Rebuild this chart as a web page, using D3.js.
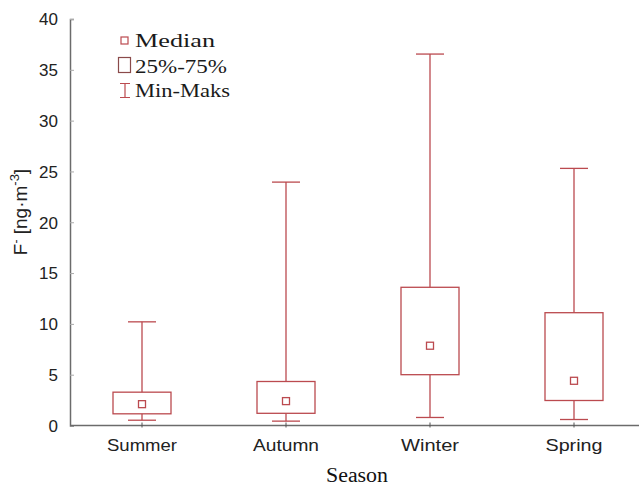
<!DOCTYPE html>
<html><head><meta charset="utf-8">
<script src="https://cdn.jsdelivr.net/npm/d3@7"></script>
<style>body{margin:0;background:#fff}svg{display:block}</style>
</head><body>
<svg id="c" width="639" height="486"></svg>
<script>
const seasons = ["Summer", "Autumn", "Winter", "Spring"];
const minVals = [0.52, 0.43, 0.79, 0.59];
const q1Vals = [1.15, 1.2, 5.0, 2.46];
const medVals = [2.1, 2.4, 7.85, 4.4];
const q3Vals = [3.28, 4.33, 13.6, 11.1];
const maxVals = [10.2, 23.95, 36.55, 25.3];
const yTicks = [0, 5, 10, 15, 20, 25, 30, 35, 40];
const legendLabels = ["Median", "25%-75%", "Min-Maks"];

const red = "#bb4a4f", axisCol = "#6b6b6b";
const svg = d3.select("#c");
const x = d3.scaleBand().domain(seasons).range([70, 646]);
const y = d3.scaleLinear().domain([0, 40]).range([425.5, 19]);
const data = seasons.map((s, i) => ({s, min: minVals[i], q1: q1Vals[i], med: medVals[i], q3: q3Vals[i], max: maxVals[i]}));
const cx = s => x(s) + x.bandwidth() / 2;
const boxW = 58, capW = 28, medS = 7;

// axes
const yAxis = d3.axisLeft(y).tickValues(yTicks).tickSize(-4).tickPadding(12).tickFormat(d3.format("d"));
const gy = svg.append("g").attr("transform", "translate(70,0)").call(yAxis);
gy.select(".domain").attr("stroke", axisCol).attr("stroke-width", 1.5);
gy.selectAll(".tick line").attr("stroke", "#aaa");
gy.selectAll(".tick text").attr("font-family", "Liberation Sans, Arial, sans-serif").attr("font-size", 17).attr("fill", "#222").attr("dy", "0.34em");

const xAxis = d3.axisBottom(x).tickSize(3).tickPadding(10);
const gx = svg.append("g").attr("transform", "translate(0,425.5)").call(xAxis);
gx.select(".domain").attr("stroke", axisCol).attr("stroke-width", 1.5).attr("d", "M70,0H639");
gx.selectAll(".tick line").attr("stroke", "#555").attr("y1", -3).attr("y2", 2);
gx.selectAll(".tick text").attr("font-family", "Liberation Sans, Arial, sans-serif").attr("font-size", 17).attr("fill", "#222").attr("dy", "0.71em")
  .attr("textLength", d => ({Summer: 70, Autumn: 66, Winter: 58, Spring: 57}[d])).attr("lengthAdjust", "spacingAndGlyphs");

// boxes
const g = svg.append("g").attr("stroke", red).attr("stroke-width", 1.3).attr("fill", "none");
g.selectAll(".wh").data(data).join("line").attr("x1", d => cx(d.s)).attr("x2", d => cx(d.s)).attr("y1", d => y(d.max)).attr("y2", d => y(d.min));
g.selectAll(".capT").data(data).join("line").attr("x1", d => cx(d.s) - capW/2).attr("x2", d => cx(d.s) + capW/2).attr("y1", d => y(d.max)).attr("y2", d => y(d.max));
g.selectAll(".capB").data(data).join("line").attr("x1", d => cx(d.s) - capW/2).attr("x2", d => cx(d.s) + capW/2).attr("y1", d => y(d.min)).attr("y2", d => y(d.min));
g.selectAll(".box").data(data).join("rect").attr("x", d => cx(d.s) - boxW/2).attr("width", boxW).attr("y", d => y(d.q3)).attr("height", d => y(d.q1) - y(d.q3)).attr("fill", "#fff");
g.selectAll(".med").data(data).join("rect").attr("x", d => cx(d.s) - medS/2).attr("y", d => y(d.med) - medS/2).attr("width", medS).attr("height", medS).attr("fill", "#fff");

// legend
const lg = svg.append("g");
lg.append("rect").attr("x", 121).attr("y", 37).attr("width", 7).attr("height", 7).attr("fill", "none").attr("stroke", red).attr("stroke-width", 1.2);
lg.append("rect").attr("x", 118.5).attr("y", 57.5).attr("width", 12).attr("height", 15).attr("fill", "none").attr("stroke", "#8a4a4a").attr("stroke-width", 1.2);
lg.append("path").attr("d", "M120,83.5H130M125,83.5V97.5M120,97.5H130").attr("fill", "none").attr("stroke", red).attr("stroke-width", 1.2);
const lw = [80, 92, 95];
const ly = [47, 73, 97];
legendLabels.forEach((t, i) => {
  lg.append("text").attr("x", 135).attr("y", ly[i]).text(t)
    .attr("font-family", "Liberation Serif, Times New Roman, serif").attr("font-size", 19).attr("fill", "#1a1a1a")
    .attr("textLength", lw[i]).attr("lengthAdjust", "spacingAndGlyphs");
});

// axis titles
svg.append("text").attr("x", 357).attr("y", 482).attr("text-anchor", "middle")
  .attr("font-family", "Liberation Serif, Times New Roman, serif").attr("font-size", 20).attr("fill", "#111")
  .attr("textLength", 62).attr("lengthAdjust", "spacingAndGlyphs").text("Season");

const yt = svg.append("text").attr("transform", "translate(27,212) rotate(-90)").attr("text-anchor", "middle")
  .attr("font-family", "Liberation Sans, Arial, sans-serif").attr("font-size", 19).attr("fill", "#222");
yt.append("tspan").text("F");
yt.append("tspan").attr("dy", -7).attr("font-size", 12).text("-");
yt.append("tspan").attr("dy", 7).text(" [ng·m");
yt.append("tspan").attr("dy", -8).attr("font-size", 13).text("-3");
yt.append("tspan").attr("dy", 8).text("]");
</script>
</body></html>
